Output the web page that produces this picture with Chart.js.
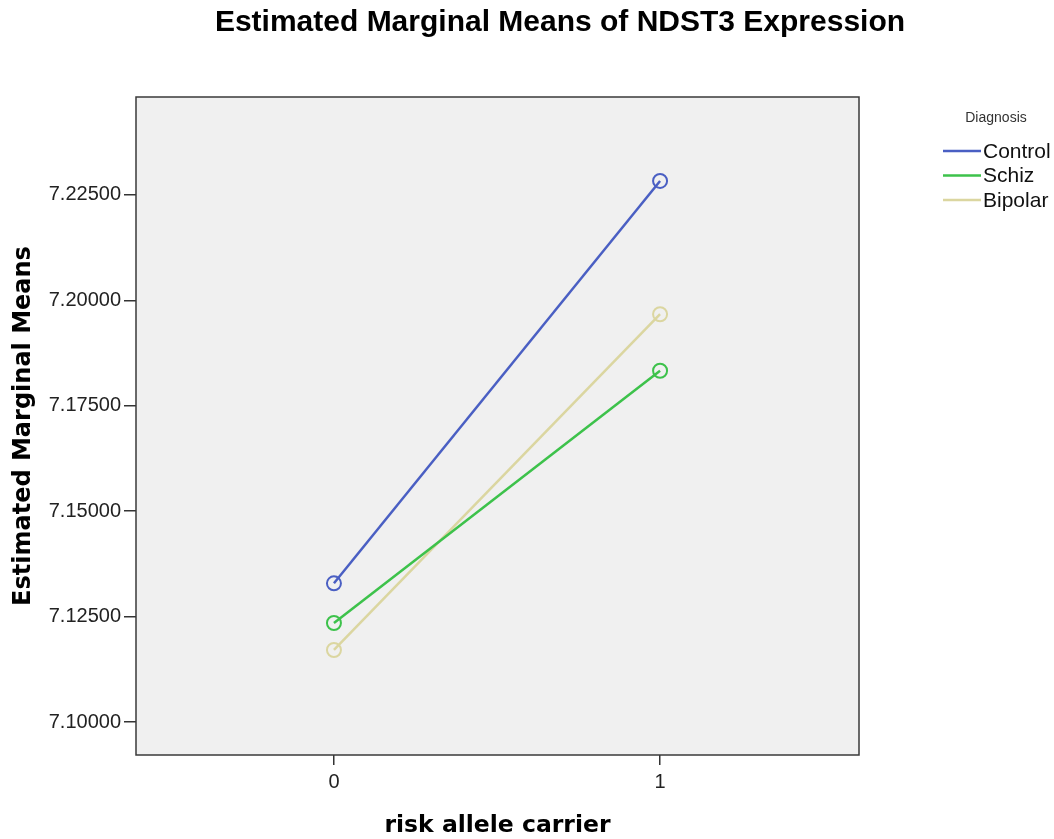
<!DOCTYPE html>
<html>
<head>
<meta charset="utf-8">
<script src="https://cdn.jsdelivr.net/npm/chart.js@4.4.1/dist/chart.umd.min.js"></script>
<style>
  html, body { margin: 0; padding: 0; background: #ffffff; }
  #wrap { width: 1054px; height: 839px; position: relative; }
</style>
</head>
<body>
<div id="wrap"><canvas id="c"></canvas></div>
<script>
const chartTitle = "Estimated Marginal Means of NDST3 Expression";
const xTitle = "risk allele carrier";
const yTitle = "Estimated Marginal Means";
const legendTitle = "Diagnosis";
const categories = [0, 1];
const xTickLabels = ["0", "1"];
const seriesNames = ["Control", "Schiz", "Bipolar"];
const controlValues = [7.1329, 7.2283];
const schizValues = [7.1235, 7.1833];
const bipolarValues = [7.1171, 7.1967];
const yTicks = [7.100, 7.125, 7.150, 7.175, 7.200, 7.225];
const yTickLabels = ["7.10000", "7.12500", "7.15000", "7.17500", "7.20000", "7.22500"];
const seriesColors = ["#4a5fc3", "#3dc24b", "#dbd6a0"];

const FONT = "'Liberation Sans', Arial, sans-serif";
const AXFONT = "'DejaVu Sans', Verdana, sans-serif";
const allValues = [controlValues, schizValues, bipolarValues];

const datasets = seriesNames.map((name, i) => ({
  label: name,
  data: categories.map((c, j) => ({ x: c, y: allValues[i][j] })),
  borderColor: seriesColors[i],
  backgroundColor: seriesColors[i],
  borderWidth: 2.5,
  pointRadius: 7,
  pointHoverRadius: 7,
  pointBorderWidth: 2,
  pointBackgroundColor: "rgba(0,0,0,0)",
  pointBorderColor: seriesColors[i],
  tension: 0
}));

const decor = {
  id: "decor",
  beforeDraw(chart) {
    const { ctx, chartArea: a } = chart;
    ctx.save();
    ctx.fillStyle = "#f0f0f0";
    ctx.fillRect(a.left, a.top, a.right - a.left, a.bottom - a.top);
    ctx.restore();
  },
  afterDraw(chart) {
    const { ctx, chartArea: a } = chart;
    ctx.save();
    ctx.strokeStyle = "#3a3a3a";
    ctx.lineWidth = 1.5;
    ctx.strokeRect(a.left, a.top, a.right - a.left, a.bottom - a.top);
    // title
    ctx.fillStyle = "#000";
    ctx.font = "bold 30px " + FONT;
    ctx.textAlign = "center";
    ctx.textBaseline = "middle";
    ctx.fillText(chartTitle, 560, 23);
    // legend
    ctx.font = "14px " + FONT;
    ctx.fillStyle = "#333";
    ctx.fillText(legendTitle, 996, 118);
    ctx.textAlign = "left";
    ctx.font = "21px " + FONT;
    chart.data.datasets.forEach((ds, i) => {
      const y = 151 + i * 24.5;
      ctx.strokeStyle = ds.borderColor;
      ctx.lineWidth = 2.5;
      ctx.beginPath();
      ctx.moveTo(943, y);
      ctx.lineTo(981, y);
      ctx.stroke();
      ctx.fillStyle = "#111";
      ctx.fillText(ds.label, 983, y + 1);
    });
    ctx.restore();
  }
};

new Chart(document.getElementById("c"), {
  type: "line",
  data: { datasets },
  options: {
    responsive: true,
    maintainAspectRatio: false,
    animation: false,
    layout: { padding: { left: 0, top: 97, right: 195, bottom: 0 } },
    plugins: {
      legend: { display: false },
      title: { display: false },
      tooltip: { enabled: false }
    },
    scales: {
      x: {
        type: "linear",
        min: -0.607,
        max: 1.61,
        afterBuildTicks(scale) { scale.ticks = categories.map(v => ({ value: v })); },
        afterFit(scale) { scale.height = 84; },
        grid: { display: true, drawOnChartArea: false, drawTicks: true, tickLength: 10, color: "#333", lineWidth: 1.5 },
        border: { display: false },
        ticks: {
          color: "#222",
          padding: 5,
          font: { family: FONT, size: 20 },
          callback: (v) => { const k = categories.indexOf(v); return k >= 0 ? xTickLabels[k] : null; }
        },
        title: {
          display: true, text: xTitle, color: "#000",
          font: { family: AXFONT, size: 23.5, weight: "bold" },
          padding: { top: 0, bottom: -1 }
        }
      },
      y: {
        type: "linear",
        min: 7.0922,
        max: 7.2482,
        afterBuildTicks(scale) { scale.ticks = yTicks.map(v => ({ value: v })); },
        afterFit(scale) { scale.width = 136; },
        grid: { display: true, drawOnChartArea: false, drawTicks: true, tickLength: 12, color: "#333", lineWidth: 1.5 },
        border: { display: false },
        ticks: {
          color: "#222",
          padding: 3,
          font: { family: FONT, size: 20 },
          callback: (v) => { const k = yTicks.findIndex(t => Math.abs(t - v) < 1e-9); return k >= 0 ? yTickLabels[k] : null; }
        },
        title: {
          display: true, text: yTitle, color: "#000",
          font: { family: AXFONT, size: 24, weight: "bold" },
          padding: { top: 9, bottom: 0 }
        }
      }
    }
  },
  plugins: [decor]
});
</script>
</body>
</html>
